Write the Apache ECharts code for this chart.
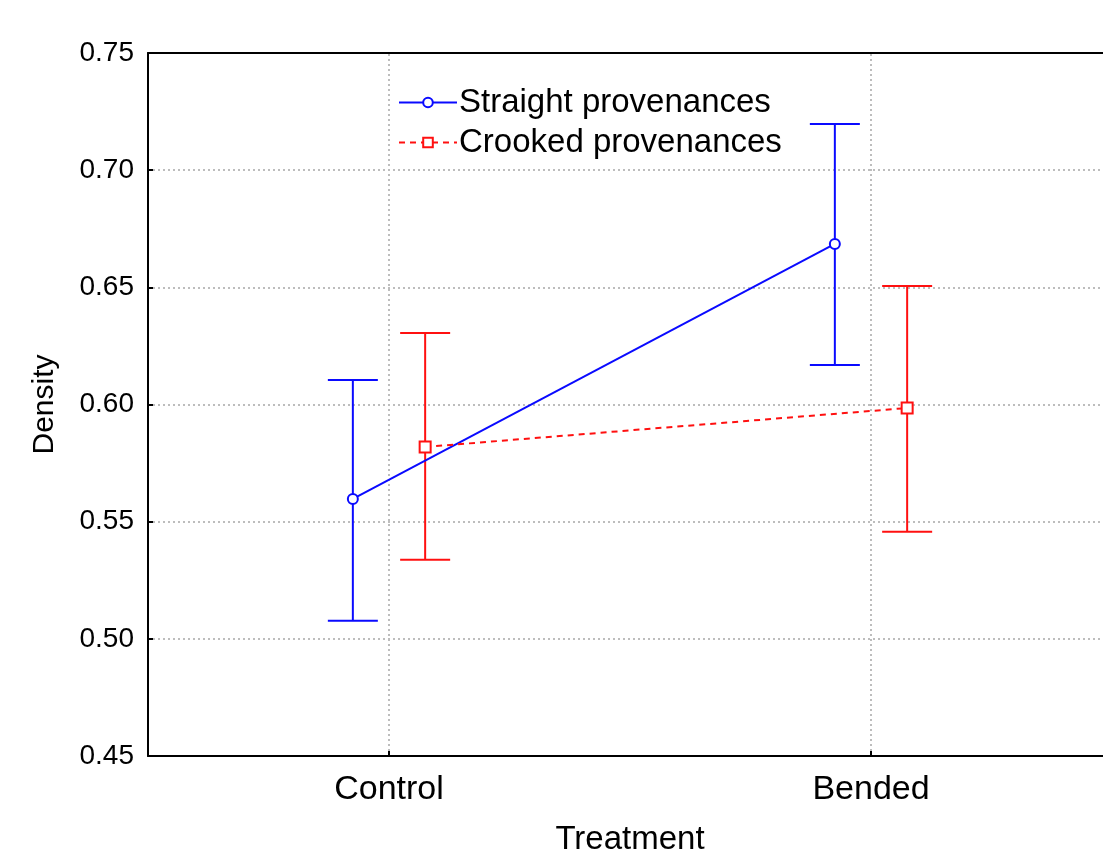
<!DOCTYPE html>
<html>
<head>
<meta charset="utf-8">
<script src="https://cdn.jsdelivr.net/npm/echarts@6/dist/echarts.min.js"></script>
<style>
html,body{margin:0;padding:0;background:#fff;}
#chart{width:1103px;height:851px;}
</style>
</head>
<body>
<div id="chart"></div>
<script>
// ---- data ----
const categories = ['Control', 'Bended'];
const categoryPositions = [0, 1];
const straightMean  = [0.5597, 0.6685];
const straightLower = [0.5077, 0.6169];
const straightUpper = [0.6105, 0.7197];
const crookedMean   = [0.5819, 0.5985];
const crookedLower  = [0.5337, 0.5457];
const crookedUpper  = [0.6305, 0.6506];
const yTicks = [0.45, 0.50, 0.55, 0.60, 0.65, 0.70, 0.75];

// ---- layout / style ----
const OFFSET = 0.075;
const BLUE = '#0a0aff';
const RED = '#ff1010';
const FONT = '"Liberation Sans", Arial, sans-serif';

function pts(pos, vals, off) { return pos.map((p, i) => [p + off, vals[i]]); }
function bars(pos, lo, hi, off) { return pos.map((p, i) => [p + off, lo[i], hi[i]]); }

function errorBar(color) {
  return function (params, api) {
    const x = api.value(0);
    const lo = api.coord([x, api.value(1)]);
    const hi = api.coord([x, api.value(2)]);
    const cap = 25;
    const style = { stroke: color, lineWidth: 2 };
    return {
      type: 'group',
      children: [
        { type: 'line', shape: { x1: lo[0], y1: lo[1], x2: hi[0], y2: hi[1] }, style },
        { type: 'line', shape: { x1: lo[0] - cap, y1: lo[1], x2: lo[0] + cap, y2: lo[1] }, style },
        { type: 'line', shape: { x1: hi[0] - cap, y1: hi[1], x2: hi[0] + cap, y2: hi[1] }, style }
      ]
    };
  };
}

const chart = echarts.init(document.getElementById('chart'), null, { renderer: 'canvas' });
chart.setOption({
  animation: false,
  backgroundColor: '#fff',
  textStyle: { fontFamily: FONT },
  grid: {
    left: 148, top: 53, width: 964, height: 703,
    outerBoundsMode: 'none',
    containLabel: false,
    show: false
  },
  legend: {
    left: 393, top: 81,
    orient: 'vertical',
    itemGap: 7,
    itemWidth: 58, itemHeight: 12,
    textStyle: { fontSize: 33, color: '#000', fontFamily: FONT, padding: [0, 0, 0, -3] },
    data: ['Straight provenances', 'Crooked provenances']
  },
  xAxis: [
    {
      type: 'category',
      data: categories,
      boundaryGap: true,
      name: 'Treatment',
      nameLocation: 'middle',
      nameGap: 67,
      nameTextStyle: { fontSize: 33, color: '#000', fontFamily: FONT },
      axisLine: { onZero: false, lineStyle: { color: '#000', width: 2 } },
      axisTick: { show: true, inside: true, alignWithLabel: true, length: 5, lineStyle: { color: '#000', width: 2 } },
      axisLabel: { fontSize: 34, color: '#000', margin: 17, fontFamily: FONT },
      splitLine: { show: false }
    },
    {
      type: 'value',
      min: -0.5, max: 1.5,
      show: false,
      splitLine: { show: false }
    },
    {
      type: 'category',
      data: categories,
      position: 'top',
      axisLine: { onZero: false, lineStyle: { color: '#000', width: 2 } },
      axisTick: { show: false },
      axisLabel: { show: false },
      splitLine: { show: false }
    }
  ],
  yAxis: {
    type: 'value',
    min: 0.45, max: 0.75, interval: 0.05,
    name: 'Density',
    nameLocation: 'middle',
    nameGap: 88,
    nameTextStyle: { fontSize: 30, color: '#000', fontFamily: FONT },
    axisLine: { show: true, onZero: false, lineStyle: { color: '#000', width: 2 } },
    axisTick: { show: true, inside: true, length: 5, lineStyle: { color: '#000', width: 2 } },
    axisLabel: {
      fontSize: 28, color: '#000', margin: 14, fontFamily: FONT,
      formatter: v => yTicks.find(t => Math.abs(t - v) < 1e-9) !== undefined ? v.toFixed(2) : ''
    },
    splitLine: { show: true, lineStyle: { color: '#bdbdbd', type: [2, 3], width: 2 } }
  },
  series: [
    {
      name: 'gridV',
      type: 'line',
      xAxisIndex: 1,
      data: [],
      silent: true,
      z: 0,
      markLine: {
        silent: true,
        symbol: 'none',
        z: 0,
        label: { show: false },
        lineStyle: { color: '#bdbdbd', type: [2, 3], width: 2 },
        data: categoryPositions.map(p => ({ xAxis: p }))
      }
    },
    {
      type: 'custom',
      xAxisIndex: 1,
      renderItem: errorBar(BLUE),
      data: bars(categoryPositions, straightLower, straightUpper, -OFFSET),
      z: 3
    },
    {
      type: 'custom',
      xAxisIndex: 1,
      renderItem: errorBar(RED),
      data: bars(categoryPositions, crookedLower, crookedUpper, OFFSET),
      z: 3
    },
    {
      name: 'Straight provenances',
      type: 'line',
      xAxisIndex: 1,
      data: pts(categoryPositions, straightMean, -OFFSET),
      symbol: 'circle',
      symbolSize: 10,
      showAllSymbol: true,
      color: BLUE,
      lineStyle: { color: BLUE, width: 2 },
      itemStyle: { color: '#fff', borderColor: BLUE, borderWidth: 2 },
      z: 5
    },
    {
      name: 'Crooked provenances',
      type: 'line',
      xAxisIndex: 1,
      data: pts(categoryPositions, crookedMean, OFFSET),
      symbol: 'rect',
      symbolSize: 11,
      color: RED,
      lineStyle: { color: RED, width: 2, type: [6, 5] },
      itemStyle: { color: '#fff', borderColor: RED, borderWidth: 2 },
      z: 5
    }
  ]
});
</script>
</body>
</html>
